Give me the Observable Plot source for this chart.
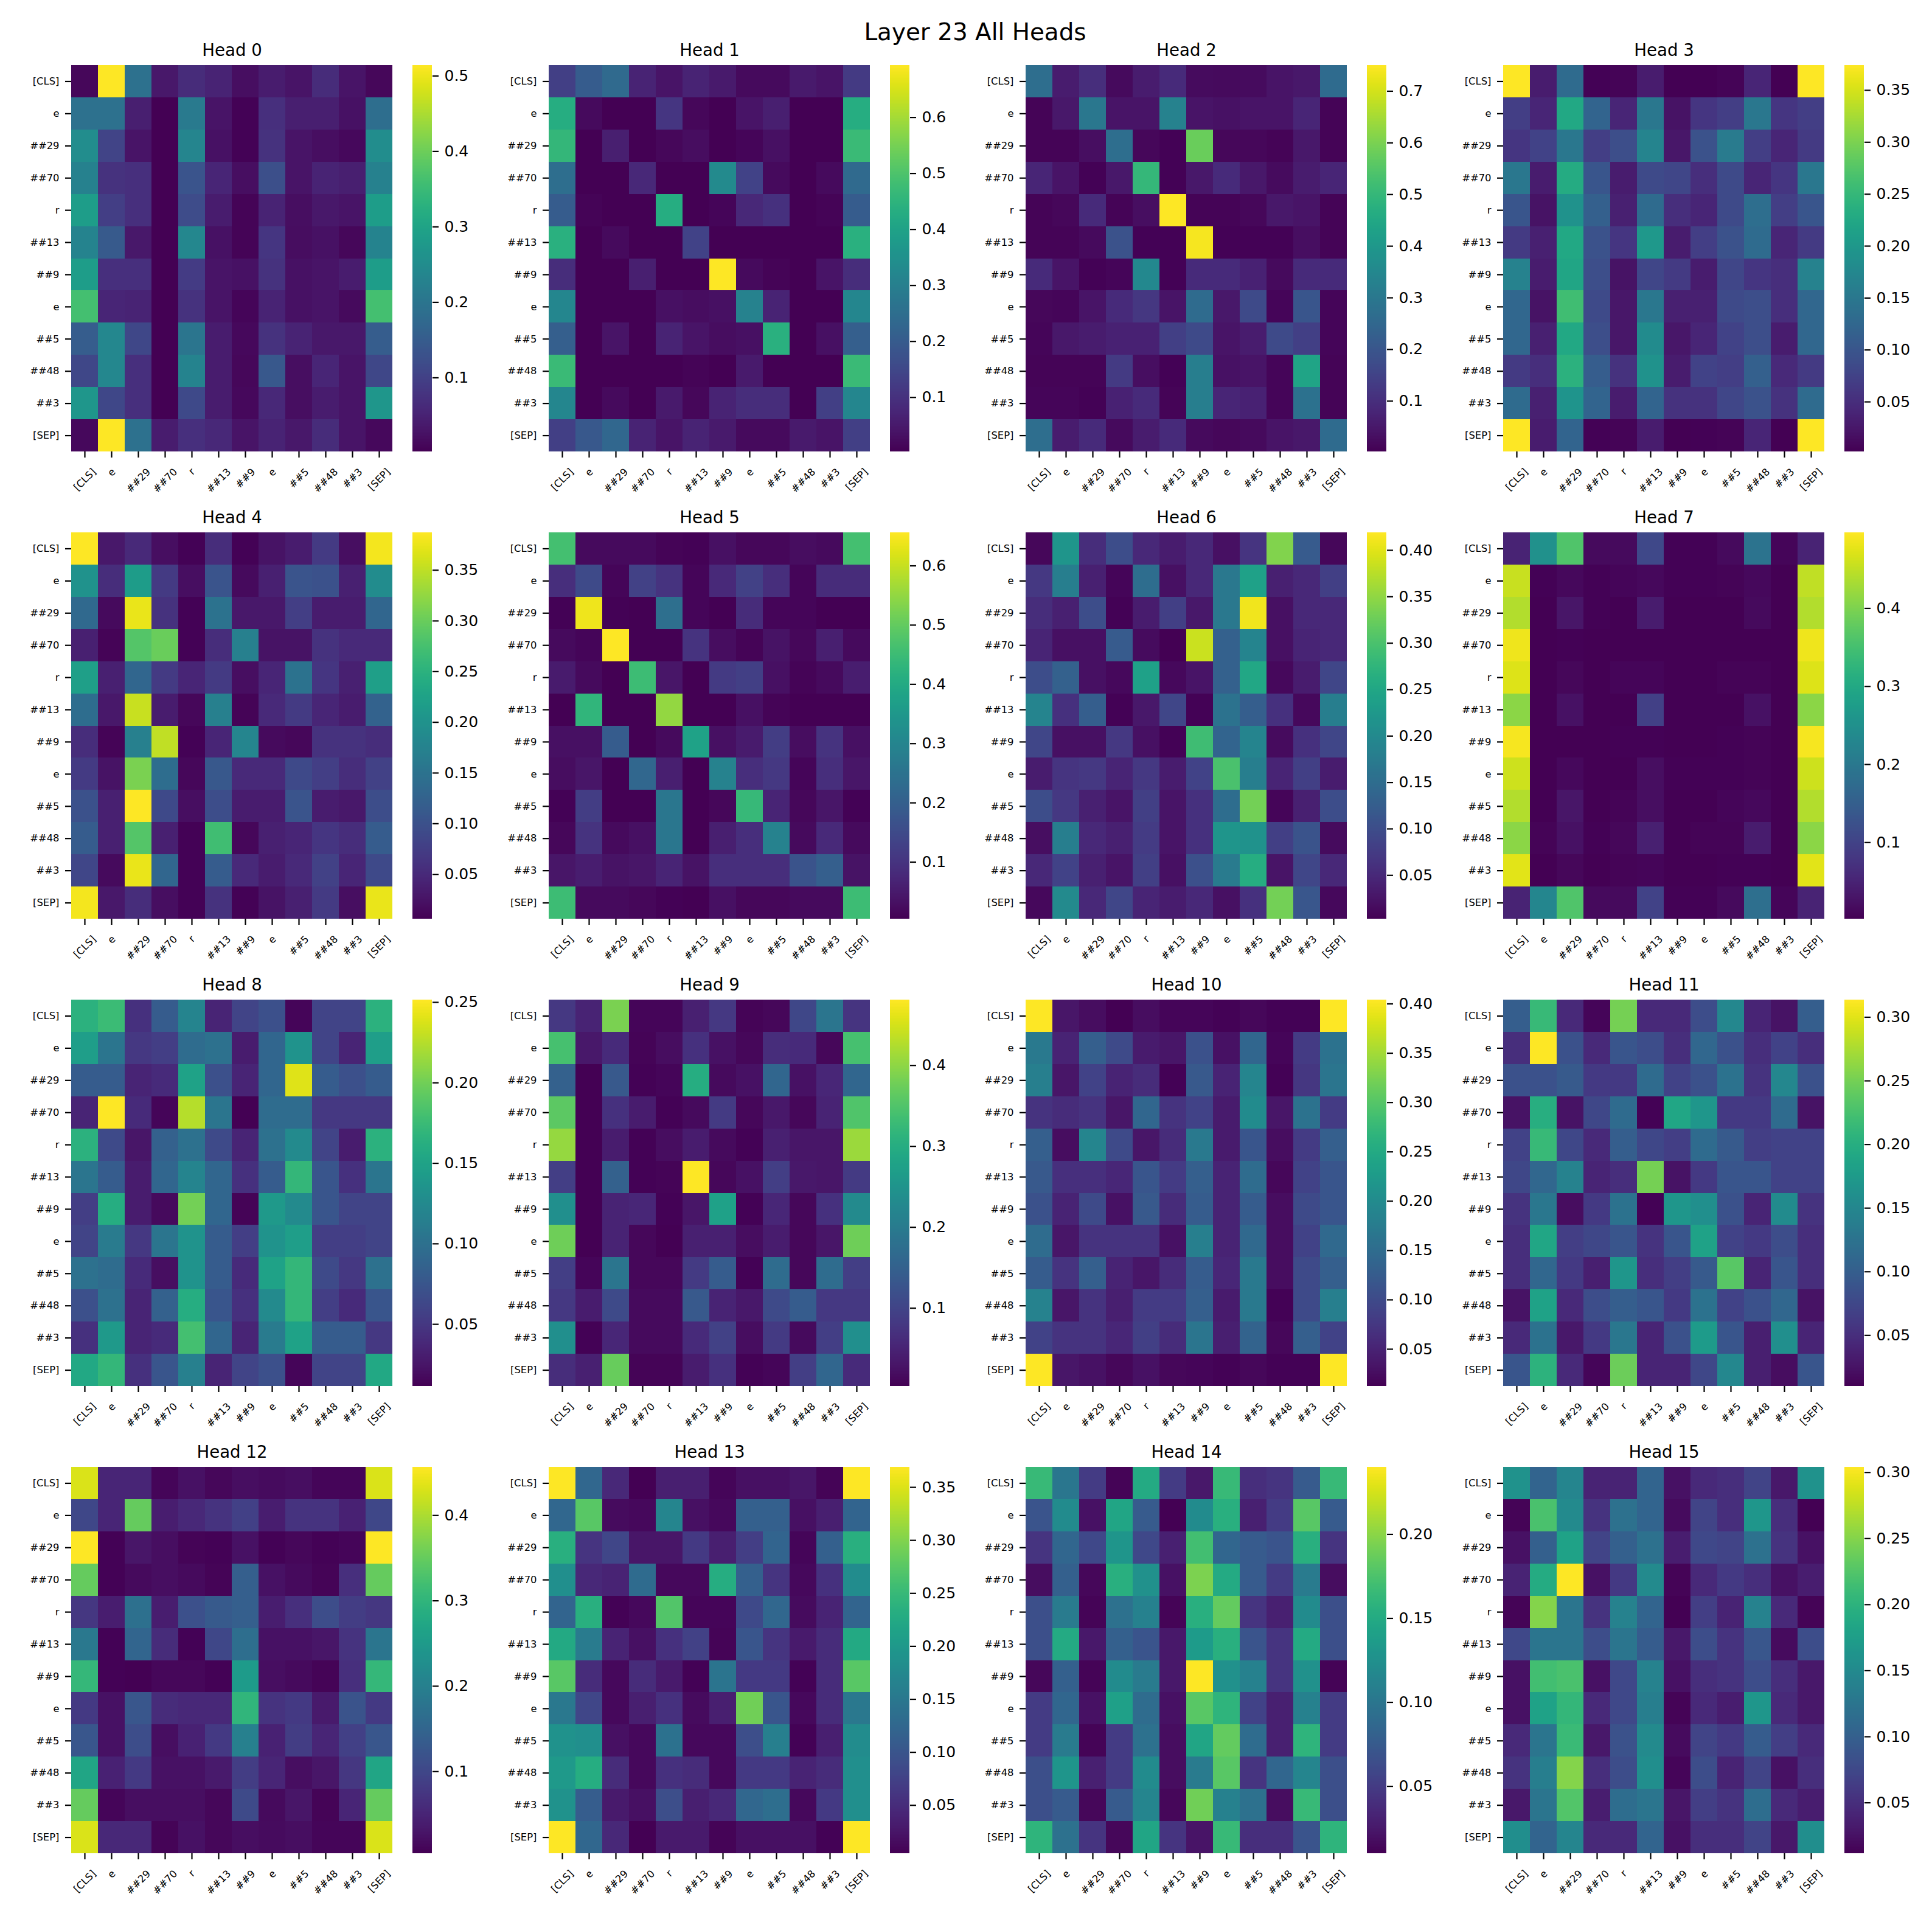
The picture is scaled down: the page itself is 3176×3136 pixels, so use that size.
<!DOCTYPE html>
<html><head><meta charset="utf-8">
<script src="https://cdn.jsdelivr.net/npm/d3@7"></script>
<script src="https://cdn.jsdelivr.net/npm/@observablehq/plot@0.6"></script>
<style>
html,body{margin:0;padding:0;background:#fff}
#fig{position:relative;width:3176px;height:3136px;background:#fff;overflow:hidden;font-family:"DejaVu Sans",sans-serif;color:#000}
#fig svg{position:absolute;background:transparent;max-width:none}
#main{position:absolute;left:1603px;top:53px;transform:translate(-50%,-50%);font-size:38.9px;white-space:nowrap;line-height:1}
</style></head><body><div id="fig"><div id="main">Layer 23 All Heads</div></div>
<script>
const tokens=["[CLS]","e","##29","##70","r","##13","##9","e","##5","##48","##3","[SEP]"];
const vmins=[.002,.003,.002,.002,.006,.004,.003,.002,.0115,.0035,.0124,.01,.004,.0045,.01,.0116];
const vmaxs=[.514,.693,.75,.374,.387,.656,.419,.497,.2515,.481,.404,.3136,.4565,.369,.24,.304];
const tickSets=[
[.1,.2,.3,.4,.5],[.1,.2,.3,.4,.5,.6],[.1,.2,.3,.4,.5,.6,.7],[.05,.1,.15,.2,.25,.3,.35],
[.05,.1,.15,.2,.25,.3,.35],[.1,.2,.3,.4,.5,.6],[.05,.1,.15,.2,.25,.3,.35,.4],[.1,.2,.3,.4],
[.05,.1,.15,.2,.25],[.1,.2,.3,.4],[.05,.1,.15,.2,.25,.3,.35,.4],[.05,.1,.15,.2,.25,.3],
[.1,.2,.3,.4],[.05,.1,.15,.2,.25,.3,.35],[.05,.1,.15,.2],[.05,.1,.15,.2,.25,.3]];
const head0=[
[.01,.514,.19,.035,.065,.05,.02,.04,.03,.065,.03,.01],
[.19,.19,.045,.003,.21,.03,.005,.07,.045,.045,.025,.185],
[.25,.105,.03,.003,.235,.025,.004,.075,.03,.02,.012,.25],
[.225,.075,.07,.003,.135,.055,.02,.125,.03,.05,.045,.225],
[.285,.095,.07,.003,.12,.04,.006,.05,.02,.035,.03,.285],
[.23,.145,.035,.003,.24,.025,.006,.08,.018,.025,.01,.23],
[.285,.07,.07,.003,.09,.03,.025,.075,.025,.03,.04,.285],
[.36,.055,.05,.003,.075,.03,.008,.05,.025,.03,.015,.36],
[.15,.24,.11,.003,.2,.04,.012,.075,.05,.035,.035,.15],
[.11,.24,.07,.003,.23,.04,.01,.14,.02,.055,.03,.11],
[.27,.11,.07,.003,.115,.04,.012,.06,.02,.04,.03,.27],
[.012,.514,.19,.04,.07,.06,.03,.05,.035,.065,.03,.012]];
const head1=[
[.13,.2,.24,.07,.04,.07,.05,.02,.02,.05,.04,.12],
[.43,.02,.005,.005,.11,.015,.005,.04,.06,.005,.005,.43],
[.46,.005,.06,.005,.015,.025,.005,.012,.03,.005,.005,.47],
[.25,.005,.005,.08,.005,.005,.33,.14,.02,.005,.02,.24],
[.2,.01,.005,.005,.43,.005,.012,.08,.1,.005,.01,.2],
[.44,.005,.02,.005,.005,.14,.005,.005,.005,.005,.005,.44],
[.09,.005,.005,.06,.005,.005,.693,.02,.01,.005,.04,.09],
[.32,.005,.005,.005,.03,.025,.03,.31,.07,.005,.005,.32],
[.21,.005,.04,.005,.07,.04,.025,.03,.44,.005,.03,.21],
[.47,.005,.005,.005,.005,.01,.005,.05,.005,.005,.005,.47],
[.32,.005,.02,.005,.05,.015,.07,.09,.09,.005,.13,.32],
[.13,.19,.23,.07,.04,.07,.05,.02,.02,.05,.04,.13]];
const head2=[
[.27,.06,.1,.02,.06,.09,.025,.02,.025,.04,.05,.26],
[.01,.05,.3,.04,.04,.33,.04,.035,.04,.04,.08,.01],
[.01,.01,.03,.27,.015,.006,.58,.015,.015,.008,.05,.008],
[.08,.04,.005,.05,.5,.005,.05,.09,.05,.025,.06,.08],
[.008,.015,.09,.008,.03,.75,.01,.01,.015,.05,.04,.008],
[.008,.008,.02,.19,.006,.006,.74,.006,.006,.006,.03,.008],
[.09,.04,.005,.012,.35,.005,.09,.09,.07,.02,.09,.09],
[.015,.012,.04,.09,.12,.04,.26,.05,.17,.012,.2,.012],
[.012,.05,.06,.07,.07,.14,.17,.04,.06,.17,.14,.012],
[.008,.008,.008,.13,.03,.006,.32,.035,.04,.012,.44,.008],
[.012,.012,.005,.07,.09,.008,.32,.08,.07,.012,.28,.008],
[.27,.06,.09,.02,.06,.09,.02,.015,.02,.04,.05,.26]];
const head3=[
[.374,.03,.13,.004,.005,.03,.002,.003,.005,.04,.002,.374],
[.07,.04,.225,.12,.04,.15,.02,.06,.07,.15,.06,.07],
[.06,.075,.15,.07,.09,.17,.025,.095,.155,.07,.04,.065],
[.15,.03,.23,.1,.03,.085,.08,.05,.085,.04,.06,.15],
[.1,.02,.19,.115,.035,.13,.05,.04,.085,.135,.07,.1],
[.065,.035,.225,.095,.06,.2,.03,.07,.095,.13,.04,.065],
[.165,.03,.22,.09,.02,.08,.065,.03,.08,.06,.05,.165],
[.125,.02,.26,.085,.025,.15,.035,.035,.085,.09,.05,.125],
[.125,.035,.225,.09,.025,.18,.025,.04,.075,.09,.03,.125],
[.065,.05,.24,.11,.055,.19,.03,.075,.07,.115,.045,.065],
[.13,.035,.195,.12,.03,.12,.055,.055,.08,.095,.055,.13],
[.374,.03,.12,.004,.006,.03,.002,.004,.006,.04,.002,.374]];
const head4=[
[.387,.03,.05,.02,.008,.055,.008,.025,.035,.07,.02,.38],
[.2,.055,.215,.07,.02,.105,.015,.04,.105,.1,.04,.19],
[.135,.015,.375,.06,.008,.15,.03,.03,.075,.035,.035,.13],
[.04,.01,.285,.3,.008,.055,.17,.025,.025,.06,.05,.05],
[.22,.04,.13,.07,.045,.07,.02,.045,.15,.065,.04,.22],
[.14,.03,.355,.035,.012,.17,.01,.05,.07,.045,.035,.125],
[.055,.01,.17,.35,.008,.045,.18,.015,.012,.06,.06,.055],
[.07,.025,.31,.14,.012,.11,.05,.05,.09,.075,.055,.08],
[.1,.04,.387,.09,.02,.095,.035,.035,.105,.035,.03,.095],
[.115,.04,.285,.04,.008,.27,.012,.04,.045,.065,.055,.115],
[.085,.015,.375,.13,.008,.115,.05,.035,.05,.08,.045,.09],
[.38,.03,.055,.02,.008,.06,.008,.025,.04,.07,.02,.375]];
const head5=[
[.46,.02,.02,.02,.01,.008,.03,.015,.015,.025,.02,.46],
[.09,.15,.012,.13,.1,.012,.08,.13,.09,.012,.085,.085],
[.008,.64,.008,.006,.24,.012,.006,.085,.012,.012,.006,.006],
[.02,.012,.656,.006,.006,.1,.025,.01,.035,.015,.06,.02],
[.05,.02,.006,.45,.04,.006,.115,.125,.03,.01,.02,.055],
[.006,.43,.005,.005,.55,.005,.005,.03,.01,.005,.005,.005],
[.03,.03,.19,.005,.02,.38,.03,.05,.12,.025,.1,.03],
[.025,.04,.006,.22,.06,.005,.29,.09,.11,.012,.09,.04],
[.008,.12,.005,.006,.26,.004,.015,.44,.07,.015,.04,.008],
[.015,.1,.02,.03,.26,.005,.06,.09,.29,.02,.08,.02],
[.04,.055,.035,.04,.07,.035,.09,.09,.09,.17,.2,.035],
[.45,.02,.02,.015,.008,.006,.03,.015,.015,.02,.02,.45]];
const head6=[
[.01,.22,.055,.1,.05,.035,.05,.02,.065,.34,.12,.01],
[.07,.18,.04,.008,.15,.02,.05,.17,.24,.04,.05,.08],
[.055,.04,.1,.006,.035,.08,.03,.17,.41,.02,.05,.05],
[.045,.02,.02,.12,.015,.004,.385,.13,.19,.02,.045,.05],
[.1,.13,.02,.012,.24,.012,.025,.13,.25,.012,.035,.09],
[.19,.06,.125,.006,.03,.09,.006,.16,.125,.06,.012,.18],
[.09,.02,.02,.07,.02,.006,.29,.135,.19,.015,.06,.09],
[.035,.065,.07,.045,.07,.035,.085,.3,.18,.045,.08,.035],
[.1,.07,.04,.025,.08,.025,.06,.15,.33,.008,.04,.1],
[.018,.18,.05,.04,.075,.025,.06,.22,.215,.08,.11,.015],
[.05,.085,.04,.025,.08,.02,.105,.175,.26,.025,.09,.05],
[.012,.2,.05,.09,.045,.035,.05,.02,.06,.33,.115,.012]];
const head7=[
[.05,.25,.36,.015,.015,.11,.004,.004,.015,.19,.008,.05],
[.455,.004,.012,.004,.008,.012,.004,.004,.006,.012,.003,.45],
[.44,.003,.03,.004,.003,.04,.003,.003,.003,.015,.003,.44],
[.485,.003,.004,.003,.003,.003,.003,.003,.003,.003,.003,.485],
[.47,.003,.01,.003,.008,.008,.003,.003,.006,.006,.003,.47],
[.41,.003,.025,.003,.003,.095,.003,.003,.003,.025,.003,.41],
[.49,.003,.003,.003,.004,.004,.003,.003,.004,.006,.003,.49],
[.46,.003,.012,.003,.003,.02,.004,.005,.004,.006,.003,.46],
[.44,.003,.03,.003,.006,.02,.003,.003,.008,.012,.003,.44],
[.41,.006,.025,.004,.01,.045,.003,.006,.006,.04,.003,.41],
[.475,.003,.01,.003,.006,.008,.003,.003,.004,.004,.002,.475],
[.05,.23,.36,.015,.015,.1,.004,.004,.015,.18,.008,.05]];
const head8=[
[.165,.175,.045,.08,.12,.035,.06,.07,.015,.06,.06,.165],
[.145,.105,.05,.055,.095,.1,.03,.09,.135,.06,.035,.145],
[.08,.08,.035,.04,.15,.07,.035,.09,.24,.08,.07,.08],
[.035,.2515,.04,.015,.225,.105,.012,.095,.095,.05,.05,.05],
[.165,.065,.025,.085,.1,.065,.035,.1,.125,.06,.03,.165],
[.105,.08,.03,.09,.12,.09,.045,.08,.17,.075,.045,.105],
[.055,.16,.03,.018,.2,.09,.014,.14,.125,.075,.06,.06],
[.06,.11,.05,.105,.135,.08,.055,.135,.145,.055,.055,.06],
[.1,.095,.04,.02,.135,.08,.04,.15,.17,.065,.05,.1],
[.07,.1,.035,.085,.16,.075,.045,.125,.17,.055,.04,.075],
[.045,.14,.035,.04,.18,.09,.035,.11,.15,.08,.08,.05],
[.155,.17,.045,.075,.115,.035,.06,.07,.015,.06,.06,.155]];
const head9=[
[.08,.05,.385,.01,.01,.045,.08,.008,.012,.105,.19,.075],
[.34,.035,.06,.008,.02,.07,.025,.012,.065,.06,.012,.34],
[.15,.004,.135,.006,.01,.3,.015,.025,.16,.025,.055,.16],
[.36,.004,.07,.04,.006,.015,.085,.012,.035,.012,.05,.35],
[.405,.005,.04,.006,.02,.04,.015,.006,.045,.03,.03,.41],
[.09,.004,.15,.006,.008,.481,.012,.025,.09,.035,.03,.085],
[.24,.004,.05,.055,.006,.03,.275,.006,.055,.012,.07,.23],
[.375,.004,.05,.012,.004,.045,.045,.02,.04,.012,.03,.375],
[.09,.01,.19,.012,.012,.085,.14,.006,.17,.012,.17,.09],
[.08,.04,.11,.015,.015,.135,.05,.035,.11,.14,.08,.08],
[.24,.006,.055,.015,.015,.06,.095,.02,.085,.015,.09,.24],
[.065,.045,.37,.008,.008,.04,.07,.006,.01,.09,.16,.06]];
const head10=[
[.404,.035,.025,.012,.025,.018,.018,.014,.02,.014,.015,.404],
[.17,.05,.13,.1,.04,.035,.11,.03,.14,.018,.08,.16],
[.18,.035,.09,.05,.06,.015,.12,.05,.19,.015,.075,.165],
[.07,.06,.07,.035,.14,.07,.09,.04,.2,.035,.16,.08],
[.13,.025,.19,.1,.035,.06,.17,.04,.115,.025,.08,.13],
[.12,.065,.065,.055,.115,.08,.13,.05,.15,.02,.09,.115],
[.11,.05,.1,.03,.12,.06,.125,.05,.125,.025,.1,.115],
[.15,.035,.07,.07,.07,.03,.18,.05,.145,.025,.09,.145],
[.125,.07,.13,.05,.035,.06,.125,.055,.17,.025,.1,.13],
[.185,.035,.07,.045,.08,.08,.13,.04,.17,.015,.1,.18],
[.09,.07,.07,.055,.085,.06,.165,.045,.135,.02,.13,.09],
[.404,.035,.03,.02,.03,.02,.018,.014,.02,.015,.015,.404]];
const head11=[
[.1,.215,.045,.014,.25,.045,.045,.08,.15,.04,.025,.1],
[.05,.3136,.085,.045,.09,.08,.05,.11,.085,.05,.07,.05],
[.085,.085,.095,.06,.06,.115,.07,.085,.125,.055,.15,.085],
[.025,.2,.025,.075,.115,.012,.19,.17,.06,.06,.115,.025],
[.07,.215,.075,.045,.1,.075,.065,.115,.095,.065,.07,.07],
[.075,.11,.145,.04,.05,.25,.025,.06,.09,.09,.07,.07],
[.055,.13,.02,.06,.125,.012,.17,.16,.085,.04,.155,.055],
[.05,.19,.065,.075,.09,.055,.09,.185,.07,.06,.08,.05],
[.05,.11,.06,.035,.17,.05,.065,.095,.235,.04,.09,.05],
[.025,.185,.045,.08,.1,.09,.06,.125,.07,.085,.11,.025],
[.045,.125,.03,.06,.13,.04,.085,.175,.09,.035,.16,.04],
[.09,.205,.045,.014,.245,.04,.04,.075,.15,.035,.02,.09]];
const head12=[
[.43,.05,.05,.01,.025,.012,.02,.018,.02,.01,.01,.43],
[.1,.05,.35,.04,.055,.07,.09,.04,.07,.07,.045,.1],
[.4565,.006,.03,.02,.008,.006,.025,.006,.012,.006,.01,.4565],
[.35,.006,.015,.02,.015,.008,.14,.025,.015,.008,.065,.35],
[.075,.04,.17,.04,.115,.13,.14,.04,.065,.11,.085,.075],
[.185,.006,.15,.06,.006,.1,.165,.025,.025,.03,.07,.18],
[.305,.006,.005,.012,.012,.006,.25,.02,.015,.008,.065,.305],
[.08,.025,.125,.06,.055,.055,.3,.07,.08,.035,.12,.08],
[.125,.025,.11,.02,.045,.08,.2,.045,.085,.05,.09,.125],
[.27,.045,.08,.025,.025,.035,.085,.05,.02,.03,.075,.27],
[.35,.01,.02,.02,.02,.012,.105,.015,.03,.008,.05,.35],
[.43,.055,.055,.008,.025,.012,.02,.018,.02,.01,.01,.43]];
const head13=[
[.369,.125,.045,.005,.035,.035,.01,.02,.02,.025,.008,.369],
[.125,.275,.015,.012,.17,.02,.012,.115,.115,.02,.035,.12],
[.235,.06,.08,.025,.025,.065,.035,.07,.12,.01,.115,.235],
[.185,.045,.04,.13,.012,.012,.23,.115,.06,.012,.055,.18],
[.12,.235,.006,.012,.27,.01,.01,.085,.125,.015,.04,.12],
[.225,.155,.04,.02,.055,.075,.008,.1,.06,.03,.05,.225],
[.275,.05,.012,.05,.03,.006,.145,.065,.065,.006,.05,.275],
[.15,.08,.012,.035,.055,.015,.035,.29,.1,.012,.05,.15],
[.19,.185,.02,.012,.14,.012,.012,.09,.16,.006,.035,.18],
[.2,.23,.05,.012,.055,.05,.012,.065,.065,.04,.05,.185],
[.19,.11,.03,.02,.09,.035,.045,.125,.135,.012,.065,.185],
[.369,.125,.045,.005,.03,.03,.008,.02,.02,.02,.006,.369]];
const head14=[
[.165,.1,.05,.012,.15,.05,.025,.165,.04,.045,.075,.165],
[.07,.12,.02,.145,.075,.01,.12,.155,.03,.05,.18,.075],
[.045,.085,.06,.13,.06,.03,.17,.085,.075,.07,.155,.045],
[.018,.08,.014,.155,.125,.02,.195,.15,.075,.05,.105,.018],
[.065,.105,.012,.095,.11,.012,.155,.185,.045,.03,.12,.065],
[.065,.15,.025,.08,.07,.025,.135,.155,.07,.045,.15,.065],
[.014,.08,.012,.12,.105,.025,.24,.125,.11,.045,.125,.012],
[.05,.085,.02,.14,.09,.02,.18,.16,.055,.03,.11,.05],
[.05,.105,.012,.05,.095,.018,.145,.185,.09,.03,.16,.05],
[.065,.13,.03,.05,.12,.018,.105,.18,.045,.085,.115,.065],
[.065,.075,.014,.075,.115,.014,.19,.11,.095,.018,.165,.065],
[.16,.095,.045,.014,.145,.045,.022,.165,.04,.04,.07,.16]];
const head15=[
[.16,.105,.145,.04,.04,.105,.025,.045,.05,.07,.03,.16],
[.014,.22,.15,.055,.12,.105,.02,.07,.05,.165,.05,.012],
[.025,.1,.18,.07,.1,.12,.035,.075,.07,.12,.055,.025],
[.04,.19,.304,.025,.06,.15,.014,.045,.06,.05,.025,.035],
[.014,.25,.125,.055,.14,.105,.012,.065,.04,.14,.045,.014],
[.075,.125,.125,.08,.125,.095,.03,.08,.055,.09,.02,.08],
[.025,.215,.22,.025,.075,.14,.025,.05,.055,.08,.05,.03],
[.025,.18,.205,.045,.075,.135,.014,.045,.035,.165,.045,.03],
[.045,.125,.21,.03,.085,.15,.02,.07,.06,.095,.065,.045],
[.055,.135,.25,.05,.08,.155,.016,.08,.04,.07,.025,.05],
[.03,.125,.225,.035,.115,.125,.028,.065,.055,.115,.045,.035],
[.155,.105,.145,.045,.045,.105,.025,.05,.05,.07,.03,.155]];
const heads=[head0,head1,head2,head3,head4,head5,head6,head7,head8,head9,head10,head11,head12,head13,head14,head15];

const FONT='"DejaVu Sans"';
const lefts=[117,901.7,1686.3,2471], tops=[107,875,1643,2411];
const W=528,H=635,ML=117,MR=12,MT=60,MB=95;
const TS=16.4;
const ctx=document.createElement("canvas").getContext("2d");
ctx.font=`${TS}px ${FONT}`;
const idx=d3.range(12);
const fig=document.getElementById("fig");
function place(svg,x,y){svg.style.left=x+"px";svg.style.top=y+"px";fig.appendChild(svg);}
heads.forEach((m,h)=>{
  const L=lefts[h%4],T=tops[Math.floor(h/4)];
  const rows=m.flatMap((r,i)=>r.map((v,j)=>({i,j,v})));
  const color={type:"linear",scheme:"viridis",domain:[vmins[h],vmaxs[h]]};
  const xLabels=tokens.map((t,j)=>{
    const w=ctx.measureText(t).width;
    return Plot.text([t],{x:()=>j,frameAnchor:"bottom",text:d=>d,rotate:-45,fontSize:TS,fill:"#000",
      textAnchor:"middle",lineAnchor:"middle",dy:24.5+(w+TS)*0.7071/2});
  });
  const p=Plot.plot({width:ML+W+MR,height:MT+H+MB,marginLeft:ML,marginRight:MR,marginTop:MT,marginBottom:MB,
    style:{fontFamily:FONT,background:"transparent",overflow:"visible"},
    x:{type:"band",domain:idx,padding:0,round:false,axis:null},
    y:{type:"band",domain:idx,padding:0,round:false,axis:null},
    color,
    marks:[
      Plot.cell(rows,{x:"j",y:"i",fill:"v",shapeRendering:"crispEdges"}),
      Plot.axisX({anchor:"bottom",tickSize:10,tickFormat:()=>"",label:null,strokeWidth:2.2}),
      Plot.axisY({anchor:"left",tickSize:10,tickPadding:10,tickFormat:i=>tokens[i],label:null,fontSize:TS,strokeWidth:2.2,fill:"#000"}),
      ...xLabels,
      Plot.text([`Head ${h}`],{frameAnchor:"top",text:d=>d,fontSize:27.6,fill:"#000",lineAnchor:"middle",dy:-24.5})
    ]});
  place(p,L-ML,T-MT);
  const n=256,lo=vmins[h],hi=vmaxs[h];
  const steps=d3.range(n).map(k=>({y1:lo+(hi-lo)*k/n,y2:lo+(hi-lo)*(k+1)/n}));
  const cb=Plot.plot({width:32+100,height:H+40,marginLeft:0,marginRight:100,marginTop:20,marginBottom:20,
    style:{fontFamily:FONT,background:"transparent",overflow:"visible"},
    x:{domain:[0,1],axis:null},
    y:{domain:[lo,hi],axis:null},
    color,
    marks:[
      Plot.rect(steps,{x1:0,x2:1,y1:"y1",y2:"y2",fill:d=>(d.y1+d.y2)/2,shapeRendering:"crispEdges"}),
      Plot.axisY({anchor:"right",ticks:tickSets[h],tickSize:10,tickPadding:10,
        tickFormat:tickSets[h][0]===.05?d3.format(".2f"):d3.format(".1f"),label:null,fontSize:25,strokeWidth:2.2,fill:"#000"})
    ]});
  place(cb,L+W+33,T-20);
});
</script></body></html>
